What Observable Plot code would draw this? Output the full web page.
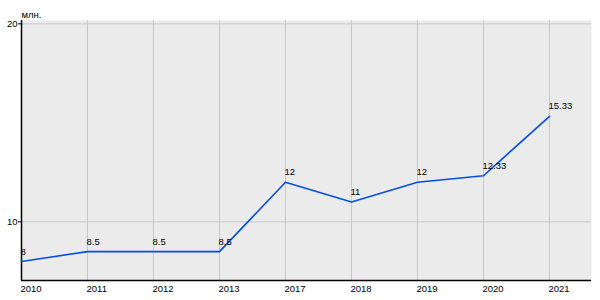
<!DOCTYPE html>
<html>
<head>
<meta charset="utf-8">
<script src="https://cdn.jsdelivr.net/npm/d3@7"></script>
<script src="https://cdn.jsdelivr.net/npm/@observablehq/plot@0.6"></script>
<style>
  html, body { margin: 0; padding: 0; background: #ffffff; }
  #chart svg { display: block; }
</style>
</head>
<body>
<div id="chart"></div>
<script>
const years = ["2010", "2011", "2012", "2013", "2017", "2018", "2019", "2020", "2021"];
const values = [8, 8.5, 8.5, 8.5, 12, 11, 12, 12.33, 15.33];
const valueLabels = ["8", "8.5", "8.5", "8.5", "12", "11", "12", "12.33", "15.33"];
const yTicks = [10, 20];
const unitLabel = "млн.";

const data = years.map((y, i) => ({year: y, value: values[i], label: valueLabels[i]}));
const yMin = 7.04, yMax = 20.17;
const fs = 9.5;

const chart = Plot.plot({
  width: 600,
  height: 300,
  marginTop: 20,
  marginBottom: 20,
  marginLeft: 21,
  marginRight: 9,
  style: {fontFamily: "Liberation Sans, Arial, sans-serif", fontSize: fs + "px", color: "#000", background: "#fff"},
  x: {type: "point", domain: years, padding: 0.318, align: 0},
  y: {domain: [yMin, yMax]},
  marks: [
    Plot.frame({fill: "#ebebeb", stroke: "none"}),
    Plot.gridX({stroke: "#c8c8c8", strokeOpacity: 1, strokeWidth: 1}),
    Plot.gridY(yTicks, {stroke: "#c8c8c8", strokeOpacity: 1, strokeWidth: 1}),
    Plot.ruleY([yMin], {stroke: "#000", strokeWidth: 1.5}),
    Plot.ruleX([years[0]], {stroke: "#000", strokeWidth: 1.5}),
    Plot.axisY(yTicks, {tickSize: 3, tickPadding: 1, label: null, fontSize: fs, fill: "#000"}),
    Plot.axisX({tickSize: 0, tickPadding: 5, label: null, fontSize: fs, fill: "#000", textAnchor: "start", dx: -1}),
    Plot.line(data, {x: "year", y: "value", stroke: "#0050e6", strokeWidth: 1.6}),
    Plot.text(data, {x: "year", y: "value", text: "label", textAnchor: "start", dx: -1, dy: -10, fontSize: fs, fill: "#000"}),
    Plot.text([unitLabel], {frameAnchor: "top-left", textAnchor: "start", lineAnchor: "middle", dx: 0, dy: -6, fontSize: fs, fill: "#000"})
  ]
});
document.getElementById("chart").appendChild(chart);
</script>
</body>
</html>
